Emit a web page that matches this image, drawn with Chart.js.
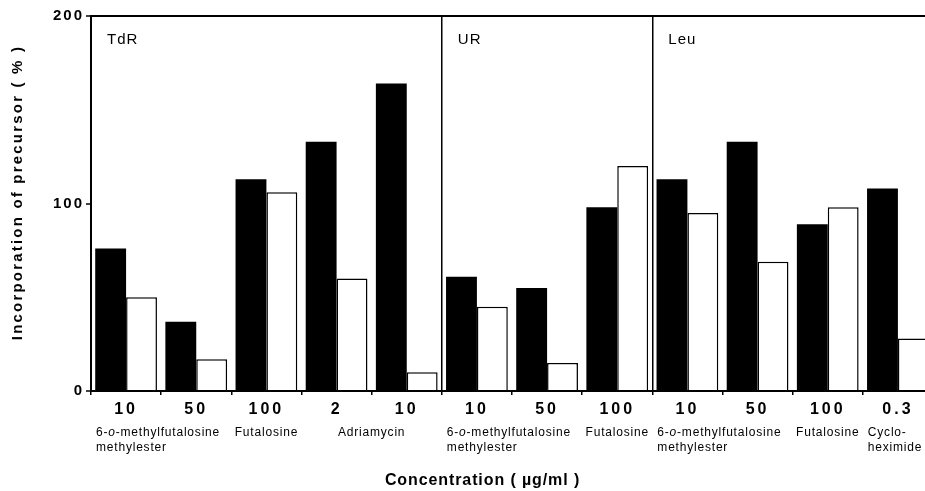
<!DOCTYPE html>
<html><head><meta charset="utf-8">
<script src="https://cdn.jsdelivr.net/npm/chart.js@4"></script>
<style>
html,body{margin:0;padding:0;background:#fff;overflow:hidden;width:925px;height:491px;}
#wrap{position:relative;width:945px;height:491px;}
</style></head><body>
<div id="wrap"><canvas id="c"></canvas></div>
<script>
const categories = ['10','50','100','2','10','10','50','100','10','50','100','0.3'];
const filledValues = [76,37,113,133,164,61,55,98,113,133,89,108];
const openValues = [50,17,106,60,10,45,15,120,95,69,98,28];
const yTicks = [0,100,200];
const panelNames = ['TdR','UR','Leu'];
const panelStart = [0,5,8];
const drugNames = [['6-*o*-methylfutalosine','methylester'],['Futalosine'],['Adriamycin'],['6-*o*-methylfutalosine','methylester'],['Futalosine'],['6-*o*-methylfutalosine','methylester'],['Futalosine'],['Cyclo-','heximide']];
const drugAnchor = [0,2,3.5,5,7,8,10,11];
const drugAlign = ['left','center','center','left','center','left','center','left'];
const xTitle = 'Concentration ( µg/ml )';
const yTitle = 'Incorporation of precursor ( % )';

const FAM = '"Liberation Sans", Arial, Helvetica, sans-serif';

const spacingPlugin = {
  id: 'spacing',
  beforeDraw(chart) {
    [['x','3px'],['y','2px']].forEach(([id, sp]) => {
      const s = chart.scales[id];
      if (s && !s._spWrapped) {
        const orig = s.drawLabels.bind(s);
        s.drawLabels = function(area) {
          const ctx = this.ctx; ctx.save(); ctx.letterSpacing = sp; orig(area); ctx.restore();
        };
        s._spWrapped = true;
      }
    });
  }
};

function drawSegs(ctx, str, x, y, align, size) {
  const parts = str.split('*');
  const fonts = parts.map((p, i) => (i % 2 ? 'italic ' : '') + size + 'px ' + FAM);
  const widths = parts.map((p, i) => { ctx.font = fonts[i]; return ctx.measureText(p).width; });
  const total = widths.reduce((a, b) => a + b, 0);
  let cx = align === 'center' ? x - total / 2 : x;
  ctx.textAlign = 'left';
  parts.forEach((p, i) => { ctx.font = fonts[i]; ctx.fillText(p, cx, y); cx += widths[i]; });
}

const textPlugin = {
  id: 'texts',
  afterDraw(chart) {
    const ctx = chart.ctx, xs = chart.scales.x, area = chart.chartArea;
    ctx.save();
    ctx.fillStyle = '#000';
    ctx.textBaseline = 'middle';
    // panel labels
    ctx.letterSpacing = '1px';
    ctx.font = '15px ' + FAM;
    ctx.textAlign = 'left';
    panelNames.forEach((n, i) => {
      ctx.fillText(n, xs.getPixelForValue(panelStart[i] - 0.5) + 16, area.top + 24);
    });
    // drug labels
    ctx.letterSpacing = '0.8px';
    drugNames.forEach((lines, i) => {
      const a = drugAnchor[i];
      const x = drugAlign[i] === 'left' ? xs.getPixelForValue(a - 0.5) + 5 : xs.getPixelForValue(a);
      lines.forEach((ln, j) => drawSegs(ctx, ln, x, area.bottom + 42 + j * 15, drugAlign[i], 12));
    });
    // x title
    ctx.letterSpacing = '0.9px';
    ctx.font = 'bold 16px ' + FAM;
    ctx.textAlign = 'center';
    ctx.fillText(xTitle, area.left + (area.right - area.left) * 0.465, area.bottom + 90);
    // y title
    ctx.letterSpacing = '2.2px';
    ctx.font = 'bold 15px ' + FAM;
    ctx.translate(18, (area.top + area.bottom) / 2 - 11);
    ctx.rotate(-Math.PI / 2);
    ctx.fillText(yTitle, 0, 0);
    ctx.restore();
  }
};

new Chart(document.getElementById('c'), {
  type: 'bar',
  data: {
    labels: categories,
    datasets: [
      { label: 'Filled', data: filledValues, backgroundColor: '#000', borderColor: '#000', borderWidth: 0 },
      { label: 'Open', data: openValues, backgroundColor: '#fff', borderColor: '#000', borderWidth: 1.5 }
    ]
  },
  options: {
    responsive: true,
    maintainAspectRatio: false,
    animation: false,
    layout: { padding: { top: 16, right: 12, left: 0, bottom: 0 } },
    datasets: { bar: { barPercentage: 1.0, categoryPercentage: 0.88 } },
    plugins: { legend: { display: false }, tooltip: { enabled: false } },
    scales: {
      x: {
        type: 'category',
        offset: true,
        border: { display: true, color: '#000', width: 2 },
        grid: {
          offset: true,
          drawOnChartArea: true,
          drawTicks: true,
          tickLength: 4,
          tickColor: '#000',
          tickWidth: 1.5,
          lineWidth: 1.5,
          color: (c) => (c.index === panelStart[1] || c.index === panelStart[2]) ? '#000' : 'rgba(0,0,0,0)'
        },
        ticks: {
          color: '#000',
          font: { family: FAM, size: 16, weight: 'bold' },
          padding: 5,
          maxRotation: 0,
          autoSkip: false
        },
        afterFit: (s) => { s.height = 100; }
      },
      y: {
        min: 0, max: 200,
        border: { display: true, color: '#000', width: 2 },
        afterBuildTicks: (s) => { s.ticks = yTicks.map(v => ({ value: v })); },
        grid: {
          drawOnChartArea: true,
          drawTicks: true,
          tickLength: 5,
          tickColor: '#000',
          tickWidth: 1.5,
          lineWidth: 2,
          color: (c) => (c.tick && c.tick.value === 200) ? '#000' : 'rgba(0,0,0,0)'
        },
        ticks: {
          color: '#000',
          font: { family: FAM, size: 15, weight: 'bold' },
          padding: 2
        },
        afterFit: (s) => { s.width = 91; }
      }
    }
  },
  plugins: [spacingPlugin, textPlugin]
});
</script>
</body></html>
